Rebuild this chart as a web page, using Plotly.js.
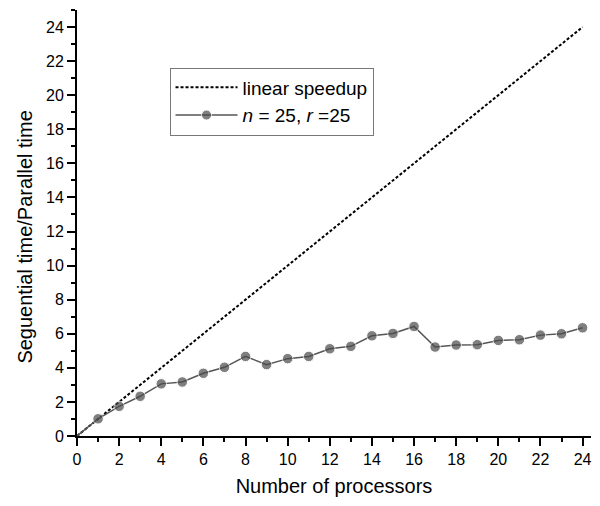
<!DOCTYPE html>
<html>
<head>
<meta charset="utf-8">
<script src="https://cdn.plot.ly/plotly-3.0.1.min.js"></script>
<style>html,body{margin:0;padding:0;background:#fff;}#chart{width:600px;height:506px;}</style>
</head>
<body>
<div id="chart"></div>
<script>
// Data
const processors = [0,1,2,3,4,5,6,7,8,9,10,11,12,13,14,15,16,17,18,19,20,21,22,23,24];
const speedup = [0,1.01,1.74,2.33,3.06,3.17,3.68,4.03,4.67,4.19,4.54,4.67,5.12,5.26,5.88,6.02,6.43,5.22,5.34,5.36,5.61,5.65,5.92,6.0,6.35];
const linearX = [0,24];
const linearY = [0,24];
const seriesNames = ['linear speedup', '<i>n</i> = 25, <i>r</i> =25'];
const tickVals = [0,2,4,6,8,10,12,14,16,18,20,22,24];
const xTitle = 'Number of processors';
const yTitle = 'Seguential time/Parallel time';

const font = 'Liberation Sans, Arial, sans-serif';

const traces = [
  {
    x: linearX, y: linearY, mode: 'lines', name: seriesNames[0],
    line: {color: '#000', width: 2, dash: '3px,2px'}
  },
  {
    x: processors, y: speedup, mode: 'lines+markers', name: seriesNames[1],
    line: {color: '#555', width: 1.5},
    marker: {color: '#4a4a4a', size: processors.map(p => p === 0 ? 0 : 10.5), line: {color: '#fff', width: 1}}
  }
];

const axisCommon = {
  showgrid: false, zeroline: false, showline: true, linecolor: '#000', linewidth: 2,
  ticks: 'outside', ticklen: 8, tickwidth: 2, tickcolor: '#000',
  tickfont: {family: font, size: 16, color: '#000'},
  tickvals: tickVals,
  minor: {dtick: 1, ticks: 'outside', ticklen: 4, tickwidth: 2, tickcolor: '#000', showgrid: false}
};

const layout = {
  width: 600, height: 506,
  margin: {l: 77, r: 9, t: 9.5, b: 69.5},
  paper_bgcolor: '#fff', plot_bgcolor: '#fff',
  showlegend: true,
  legend: {
    x: 0.18, y: 0.865, xanchor: 'left', yanchor: 'top',
    bordercolor: '#777', borderwidth: 1, bgcolor: '#fff',
    font: {family: font, size: 19, color: '#000'},
    itemwidth: 62, tracegroupgap: 0
  },
  xaxis: Object.assign({}, axisCommon, {
    range: [0, 24.4],
    title: {text: xTitle, font: {family: font, size: 20, color: '#000'}, standoff: 12}
  }),
  yaxis: Object.assign({}, axisCommon, {
    range: [0, 25],
    title: {text: yTitle + '&nbsp;&nbsp;&nbsp;&nbsp;&nbsp;', font: {family: font, size: 20, color: '#000'}, standoff: 8}
  })
};

Plotly.newPlot('chart', traces, layout, {displayModeBar: false, staticPlot: true});
</script>
</body>
</html>
